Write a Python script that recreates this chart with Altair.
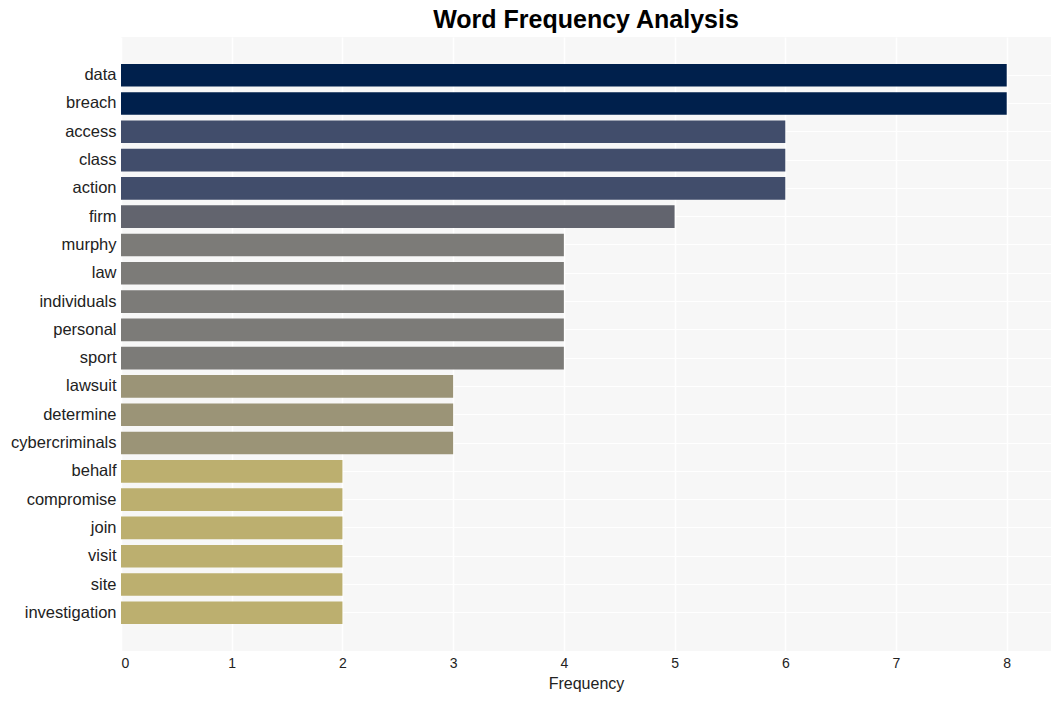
import altair as alt
import pandas as pd

words = ["data", "breach", "access", "class", "action", "firm", "murphy", "law",
         "individuals", "personal", "sport", "lawsuit", "determine", "cybercriminals",
         "behalf", "compromise", "join", "visit", "site", "investigation"]
counts = [8, 8, 6, 6, 6, 5, 4, 4, 4, 4, 4, 3, 3, 3, 2, 2, 2, 2, 2, 2]
color_levels = [2, 3, 4, 5, 6, 8]
color_values = ["#bcaf6f", "#9b9477", "#7c7b78", "#62646e", "#414d6b", "#00204c"]

df = pd.DataFrame({"word": words, "count": counts})

chart = alt.Chart(df).mark_bar().encode(
    y=alt.Y("word:N", sort=words, title=None,
            scale=alt.Scale(paddingInner=0.2, paddingOuter=0.95),
            axis=alt.Axis(labelFontSize=16.5, labelColor="#222222", labelFont="Liberation Sans",
                          ticks=False, domain=False, labelPadding=5,
                          grid=True, gridColor="white", gridWidth=1, bandPosition=0.5)),
    x=alt.X("count:Q", title="Frequency",
            scale=alt.Scale(domain=[0, 8.4], nice=False),
            axis=alt.Axis(values=[0, 1, 2, 3, 4, 5, 6, 7, 8], labelFontSize=14,
                          labelColor="#222222", labelFont="Liberation Sans",
                          titleFont="Liberation Sans", titleFontSize=16, titleFontWeight="normal",
                          titleColor="#222222", ticks=False, domain=False, labelPadding=5,
                          grid=True, gridColor="white", gridWidth=1.5, titlePadding=5)),
    color=alt.Color("count:O", scale=alt.Scale(domain=color_levels, range=color_values), legend=None),
).properties(
    width=930, height=614,
    title=alt.TitleParams("Word Frequency Analysis", fontSize=25, font="Liberation Sans",
                          fontWeight="bold", color="black", anchor="middle", offset=4),
    autosize=alt.AutoSizeParams(type="none"),
    padding={"left": 113, "top": 29, "right": 2, "bottom": 46},
).configure_view(fill="#f7f7f7", stroke=None)

chart.save("out.html", embed_options={"renderer": "svg", "actions": False})
